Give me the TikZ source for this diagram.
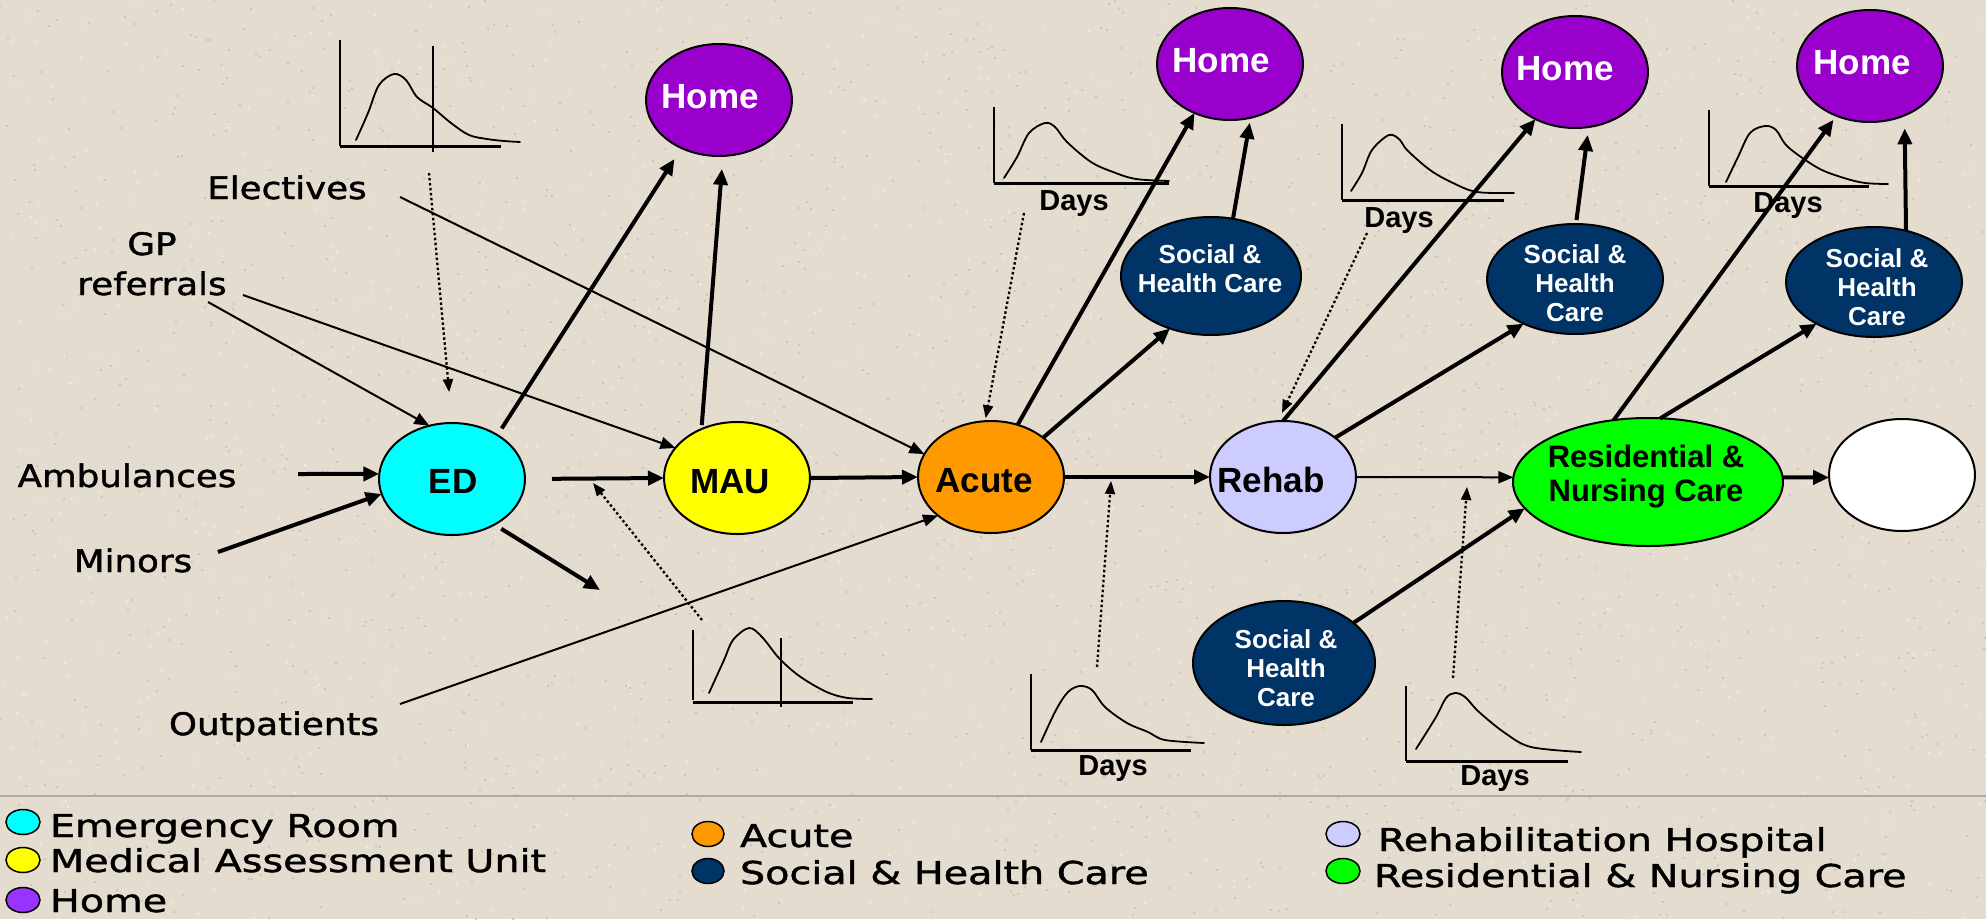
\documentclass[tikz,border=0pt]{standalone}
\usepackage{fontspec}
\setmainfont{Liberation Sans}
\newfontfamily\sidefont[FakeStretch=1.15,FakeBold=1.4]{DejaVu Sans}
\newfontfamily\keyfont[FakeStretch=1.26,FakeBold=1.4]{DejaVu Sans}
\usetikzlibrary{shapes.geometric,arrows.meta}

\definecolor{paper}{RGB}{228,220,207}
\definecolor{speckdark}{RGB}{206,197,183}
\definecolor{specklight}{RGB}{240,235,226}
\definecolor{homecol}{HTML}{9900CC}
\definecolor{homekey}{HTML}{9933FF}
\definecolor{soccol}{HTML}{003366}
\definecolor{edcol}{HTML}{00FFFF}
\definecolor{maucol}{HTML}{FFFF00}
\definecolor{acutecol}{HTML}{FF9900}
\definecolor{rehabcol}{HTML}{CCCCFF}
\definecolor{rescol}{HTML}{00FF00}
\definecolor{rulecol}{RGB}{170,170,170}

\tikzset{
  every node/.style={inner sep=0pt, outer sep=0pt},
  place/.style={ellipse, draw=black, line width=2pt, minimum width=146pt, minimum height=112pt},
  socplace/.style={place, fill=soccol, minimum width=178pt, minimum height=112pt},
  nodelabel/.style={font=\bfseries\fontsize{35}{40}\selectfont, anchor=base},
  homelabel/.style={nodelabel, text=white},
  soclabel/.style={font=\bfseries\fontsize{26}{29}\selectfont, text=white, anchor=base},
  reslabel/.style={font=\bfseries\fontsize{31}{34}\selectfont, anchor=base},
  dayslabel/.style={font=\bfseries\fontsize{29}{33}\selectfont, anchor=base},
  sidelabel/.style={font=\sidefont\fontsize{31}{40}\selectfont, anchor=base},
  keytext/.style={font=\keyfont\fontsize{31.5}{36}\selectfont, anchor=base west},
  keydot/.style={ellipse, draw=black, line width=1.5pt, minimum width=34pt, minimum height=25pt},
  flow/.style={line width=4pt, -{Triangle[length=16pt,width=14pt]}},
  feed/.style={line width=2pt, -{Triangle[length=15pt,width=12pt]}},
  hint/.style={line width=2.3pt, dash pattern=on 2.5pt off 2.5pt, -{Triangle[length=13pt,width=10pt]}},
  axisv/.style={line width=2pt},
  axish/.style={line width=3pt},
  curve/.style={line width=1.8pt, line join=round, line cap=round},
}

\begin{document}
\begin{tikzpicture}[x=1pt, y=-1pt]
  % page and paper
  \useasboundingbox (0,0) rectangle (1986,919);
  \fill[paper] (0,0) rectangle (1986,919);
  % granite grain of the paper
  \pgfmathsetseed{4242}
  \foreach \k in {1,...,1800} {
    \pgfmathrandominteger{\sx}{0}{1986}
    \pgfmathrandominteger{\sy}{0}{919}
    \fill[speckdark] (\sx,\sy) circle[radius=1.3pt];
  }
  \foreach \k in {1,...,1200} {
    \pgfmathrandominteger{\sx}{0}{1986}
    \pgfmathrandominteger{\sy}{0}{919}
    \fill[specklight] (\sx,\sy) circle[radius=1.3pt];
  }

  % ---------- care settings ----------
  \node[place, fill=edcol]    (ed)    at (452,479) {};
  \node[place, fill=maucol]   (mau)   at (737,478) {};
  \node[place, fill=acutecol] (acute) at (991,477) {};
  \node[place, fill=rehabcol] (rehab) at (1283,477) {};
  \node[place, fill=rescol, minimum width=270pt, minimum height=128pt] (res) at (1648,482) {};
  \node[place, fill=white]    (white) at (1902,475) {};

  \node[place, fill=homecol] (home1) at (719,100) {};
  \node[place, fill=homecol] (home2) at (1230,64) {};
  \node[place, fill=homecol] (home3) at (1575,72) {};
  \node[place, fill=homecol] (home4) at (1870,66) {};

  \node[socplace, minimum width=180pt, minimum height=118pt] (soc1) at (1211,276) {};
  \node[socplace, minimum width=176pt, minimum height=110pt] (soc2) at (1575,279) {};
  \node[socplace, minimum width=176pt, minimum height=110pt] (soc3) at (1874,282) {};
  \node[socplace, minimum width=182pt, minimum height=124pt] (soc4) at (1284,663) {};

  % labels inside the settings
  \node[nodelabel] (edt)    at (453,493)  {ED};
  \node[nodelabel] (maut)   at (730,493)  {MAU};
  \node[nodelabel] (acutet) at (984,492)  {Acute};
  \node[nodelabel] (rehabt) at (1271,492) {Rehab};
  \node[reslabel]  (rest)   at (1646,467) {\begin{tabular}[t]{@{}c@{}}Residential \&\\Nursing Care\end{tabular}};
  \node[homelabel] (home1t) at (710,108)  {Home};
  \node[homelabel] (home2t) at (1221,72)  {Home};
  \node[homelabel] (home3t) at (1565,80)  {Home};
  \node[homelabel] (home4t) at (1862,74)  {Home};
  \node[soclabel]  (soc1t)  at (1210,263) {\begin{tabular}[t]{@{}c@{}}Social \&\\Health Care\end{tabular}};
  \node[soclabel]  (soc2t)  at (1575,263) {\begin{tabular}[t]{@{}c@{}}Social \&\\Health\\Care\end{tabular}};
  \node[soclabel]  (soc3t)  at (1877,267) {\begin{tabular}[t]{@{}c@{}}Social \&\\Health\\Care\end{tabular}};
  \node[soclabel]  (soc4t)  at (1286,648) {\begin{tabular}[t]{@{}c@{}}Social \&\\Health\\Care\end{tabular}};

  % ---------- sources of admissions ----------
  \node[sidelabel] (elect)  at (287,199) {Electives};
  \node[sidelabel] (gpt)    at (152,255) {\begin{tabular}[t]{@{}c@{}}GP\\referrals\end{tabular}};
  \node[sidelabel] (amb)    at (127,487) {Ambulances};
  \node[sidelabel] (minors) at (133,572) {Minors};
  \node[sidelabel] (outpt)  at (274,735) {Outpatients};

  % ---------- length-of-stay curves ----------
  % before ED, with cut-off
  \draw[axisv] (340,40) -- (340,146);
  \draw[axish] (340,146) -- (501,146);
  \draw[axisv] (433,46) -- (433,152);
  \draw[curve] plot[smooth, tension=0.55] coordinates {(356,140) (368,113) (379,85) (394,74) (406,80) (417,97) (433,108) (451,123) (469,135) (487,139) (504,141) (520,142)};
  % after ED, with cut-off
  \draw[axisv] (693,630) -- (693,700);
  \draw[axish] (693,702) -- (853,702);
  \draw[axisv] (781,638) -- (781,707);
  \draw[curve] plot[smooth, tension=0.55] coordinates {(709,693) (724,660) (733,640) (749,628) (762,637) (778,657) (794,672) (810,683) (829,693) (848,698) (872,699)};
  % acute stay
  \draw[axisv] (994,107) -- (994,183);
  \draw[axish] (994,183) -- (1169,183);
  \draw[curve] plot[smooth, tension=0.55] coordinates {(1004,178) (1017,157) (1029,133) (1045,123) (1055,127) (1067,142) (1091,162) (1113,172) (1136,179) (1169,181)};
  \node[dayslabel] (days3) at (1074,210) {Days};
  % rehab stay
  \draw[axisv] (1342,124) -- (1342,200);
  \draw[axish] (1342,200) -- (1504,200);
  \draw[curve] plot[smooth, tension=0.55] coordinates {(1351,191) (1362,173) (1372,150) (1389,135) (1400,140) (1407,150) (1430,170) (1453,183) (1477,192) (1514,193)};
  \node[dayslabel] (days4) at (1399,227) {Days};
  % residential stay
  \draw[axisv] (1709,110) -- (1709,186);
  \draw[axish] (1709,186) -- (1869,186);
  \draw[curve] plot[smooth, tension=0.55] coordinates {(1726,182) (1738,157) (1750,133) (1765,126) (1776,130) (1788,147) (1818,168) (1844,178) (1865,183) (1888,184)};
  \node[dayslabel] (days5) at (1788,212) {Days};
  % acute to rehab transfer
  \draw[axisv] (1031,674) -- (1031,750);
  \draw[axish] (1031,750) -- (1191,750);
  \draw[curve] plot[smooth, tension=0.55] coordinates {(1041,742) (1056,710) (1068,692) (1080,686) (1092,690) (1105,707) (1127,723) (1148,732) (1165,740) (1204,743)};
  \node[dayslabel] (days6) at (1113,775) {Days};
  % rehab to residential transfer
  \draw[axisv] (1406,686) -- (1406,761);
  \draw[axish] (1406,761) -- (1568,761);
  \draw[curve] plot[smooth, tension=0.55] coordinates {(1416,749) (1436,717) (1446,698) (1455,693) (1465,697) (1479,712) (1505,733) (1531,747) (1581,752)};
  \node[dayslabel] (days7) at (1495,785) {Days};

  % ---------- free ends of connectors ----------
  \coordinate (ambin)  at (298,474);
  \coordinate (minin)  at (218,552);
  \coordinate (gpin1)  at (208,302);
  \coordinate (gpin2)  at (243,295);
  \coordinate (elecin) at (400,197);
  \coordinate (outin)  at (400,704);
  \coordinate (edout)  at (600,590);
  \coordinate (c1drop) at (429,173);
  \coordinate (c2rise) at (702,620);
  \coordinate (c2tip)  at (593,483);
  \coordinate (c3drop) at (1024,213);
  \coordinate (c4drop) at (1367,233);
  \coordinate (c6rise) at (1097,667);
  \coordinate (c6tip)  at (1111,481);
  \coordinate (c7rise) at (1453,678);
  \coordinate (c7tip)  at (1467,487);

  % ---------- flows ----------
  \draw[flow] (ambin) -- (ed.176);
  \draw[flow] (minin) -- (ed.192);
  \draw[feed] (gpin1) -- (ed.113);
  \draw[feed] (gpin2) -- (mau.154);
  \draw[feed] (elecin) -- (acute.161);
  \draw[feed] (outin) -- (acute.216);

  \draw[flow, shorten <=8pt, shorten >=13pt] (ed.44) -- (home1.232);
  \draw[flow, shorten <=4pt, shorten >=13pt] (mau.126) -- (home1.274);
  \draw[flow, shorten <=27pt] (ed.east) -- (mau.west);
  \draw[flow, shorten <=8pt] (ed.313) -- (edout);
  \draw[flow] (mau.east) -- (acute.west);

  \draw[flow] (acute.63) -- (home2.234);
  \draw[flow] (acute.37) -- (soc1.232);
  \draw[flow, shorten >=5pt] (soc1.69) -- (home2.291);
  \draw[flow] (acute.east) -- (rehab.west);

  \draw[flow] (rehab.north) -- (home3.230);
  \draw[flow] (rehab.37) -- (soc2.221);
  \draw[flow, shorten <=4pt, shorten >=8pt] (soc2.89) -- (home3.284);
  \draw[feed] (rehab.east) -- (res.178);

  \draw[flow] (soc4.30) -- (res.192);
  \draw[flow, shorten >=5pt] (res.119) -- (home4.236);
  \draw[flow] (res.79) -- (soc3.216);
  \draw[flow, shorten >=13pt] (soc3.58) -- (home4.305);
  \draw[flow] (res.2) -- (white.182);

  % distributions feeding the flows
  \draw[hint, shorten >=31pt] (c1drop) -- (ed.north);
  \draw[hint] (c2rise) -- (c2tip);
  \draw[hint, shorten >=3pt] (c3drop) -- (acute.96);
  \draw[hint, shorten >=9pt] (c4drop) -- (rehab.95);
  \draw[hint] (c6rise) -- (c6tip);
  \draw[hint] (c7rise) -- (c7tip);

  % ---------- key ----------
  \draw[rulecol, line width=2.5pt] (0,796) -- (1986,796);
  \node[keydot, fill=edcol]    (k1) at (23,822)   {};
  \node[keydot, fill=maucol]   (k2) at (23,860)   {};
  \node[keydot, fill=homekey]  (k3) at (23,900)   {};
  \node[keydot, fill=acutecol, minimum width=32pt] (k4) at (708,834)  {};
  \node[keydot, fill=soccol,   minimum width=32pt] (k5) at (708,871)  {};
  \node[keydot, fill=rehabcol] (k6) at (1343,834) {};
  \node[keydot, fill=rescol]   (k7) at (1343,871) {};
  \node[keytext] (kt1) at (50,837)   {Emergency Room};
  \node[keytext] (kt2) at (50,872)   {Medical Assessment Unit};
  \node[keytext] (kt3) at (50,912)   {Home};
  \node[keytext] (kt4) at (740,847)  {Acute};
  \node[keytext] (kt5) at (740,884)  {Social \& Health Care};
  \node[keytext] (kt6) at (1378,851) {Rehabilitation Hospital};
  \node[keytext] (kt7) at (1374,887) {Residential \& Nursing Care};
\end{tikzpicture}
\end{document}
